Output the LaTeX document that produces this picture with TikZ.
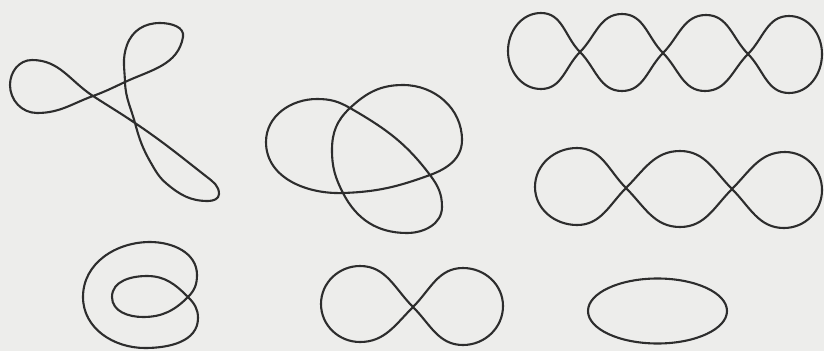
\documentclass[tikz,border=0pt]{standalone}
\definecolor{paper}{RGB}{237,237,235}
\definecolor{ink}{RGB}{45,45,45}
\tikzset{curve/.style={draw=ink,line width=2.1pt,line join=round}}
\begin{document}
\begin{tikzpicture}[x=1pt,y=1pt]
\fill[paper] (0,0) rectangle (824,-351);
\useasboundingbox (0,0) rectangle (824,-351);
% figure 1: three-lobed curve
\draw[curve] (10,-85) to[out=90,in=180] (32,-60) to[out=0,in=147] (93,-96)
 to[out=-33,in=146] (135,-123) to[out=-34,in=142] (207,-177)
 to[out=-38,in=90] (219,-194) to[out=-90,in=0] (208,-201)
 to[out=180,in=-40] (167,-184) to[out=140,in=-60] (151,-163)
 to[out=120,in=-75] (135,-123) to[out=105,in=-88] (125,-82)
 to[out=92,in=-110] (127,-45) to[out=70,in=180] (160,-23)
 to[out=0,in=80] (183,-37) to[out=-100,in=25] (125,-82)
 to[out=205,in=20] (93,-96)
 to[out=200,in=0] (37,-113) to[out=180,in=-90] cycle;
% figure 2: trefoil
\draw[curve] (266,-142) to[out=-90,in=182] (343,-193) to[out=2,in=200] (430,-175)
 to[out=20,in=-90] (462,-140) to[out=90,in=0] (403,-85)
 to[out=180,in=43] (350,-108) to[out=223,in=90] (332,-150)
 to[out=-90,in=117] (343,-193) to[out=-63,in=180] (407,-233)
 to[out=0,in=-90] (442,-207) to[out=90,in=-53] (430,-175)
 to[out=127,in=-30] (350,-108) to[out=150,in=0] (317,-99)
 to[out=180,in=90] cycle;
% figure 3: four lobes
\draw[curve] (580,-52) to[out=135,in=0] (541,-13) to[out=180,in=90] (508,-51)
 to[out=-90,in=180] (541,-89) to[out=0,in=-135] (580,-52)
 to[out=45,in=180] (622,-14) to[out=0,in=135] (663,-53)
 to[out=-45,in=180] (705,-91) to[out=0,in=-135] (748,-54)
 to[out=45,in=180] (789,-16) to[out=0,in=90] (822,-54)
 to[out=-90,in=0] (789,-93) to[out=180,in=-45] (748,-54)
 to[out=135,in=0] (706,-15) to[out=180,in=45] (663,-53)
 to[out=-135,in=0] (622,-91) to[out=180,in=-45] cycle;
% figure 4: three lobes
\draw[curve] (626,-188) to[out=135,in=0] (577,-148) to[out=180,in=90] (535,-187)
 to[out=-90,in=180] (577,-225) to[out=0,in=-135] (626,-188)
 to[out=45,in=180] (680,-151) to[out=0,in=135] (732,-189)
 to[out=-45,in=180] (784,-228) to[out=0,in=-90] (822,-190)
 to[out=90,in=0] (785,-152) to[out=180,in=45] (732,-189)
 to[out=-135,in=0] (680,-227) to[out=180,in=-45] cycle;
% figure 5: loop within loop
\draw[curve] (150,-242) to[out=180,in=90] (83,-297) to[out=-90,in=180] (145,-348)
 to[out=0,in=-90] (198,-318) to[out=90,in=-45] (188,-297)
 to[out=135,in=0] (147,-276) to[out=180,in=90] (112,-297)
 to[out=-90,in=180] (143,-317) to[out=0,in=-135] (188,-297)
 to[out=45,in=-90] (197,-275) to[out=90,in=0] cycle;
% figure 6: figure eight
\draw[curve] (413,-307) to[out=135,in=0] (360,-266) to[out=180,in=90] (321,-304)
 to[out=-90,in=180] (360,-342) to[out=0,in=-135] (413,-307)
 to[out=45,in=180] (463,-268) to[out=0,in=90] (503,-306)
 to[out=-90,in=0] (463,-345) to[out=180,in=-45] cycle;
% figure 7: ellipse
\draw[curve] (657.5,-311) ellipse [x radius=69.5, y radius=32.5];
\end{tikzpicture}
\end{document}
